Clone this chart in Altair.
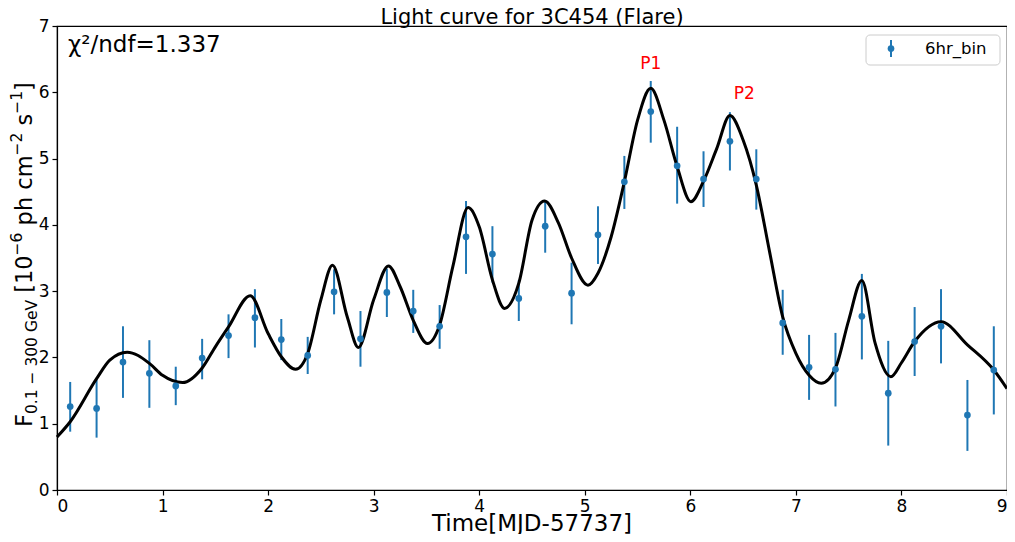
import altair as alt
import pandas as pd

FONT = "DejaVu Sans"

# ---- data: 6hr-binned light curve ----
time_bins = [0.125, 0.375, 0.625, 0.875, 1.125, 1.375, 1.625, 1.875, 2.125, 2.375,
             2.625, 2.875, 3.125, 3.375, 3.625, 3.875, 4.125, 4.375, 4.625, 4.875,
             5.125, 5.375, 5.625, 5.875, 6.125, 6.375, 6.625, 6.875, 7.125, 7.375,
             7.625, 7.875, 8.125, 8.375, 8.625, 8.875]
flux = [1.26, 1.23, 1.93, 1.76, 1.57, 1.99, 2.33, 2.60, 2.27, 2.03,
        2.99, 2.28, 2.98, 2.70, 2.47, 3.82, 3.56, 2.89, 3.98, 2.97,
        3.85, 4.65, 5.71, 4.89, 4.69, 5.26, 4.69, 2.52, 1.85, 1.82,
        2.62, 1.46, 2.24, 2.47, 1.13, 1.81]
flux_lo = [0.88, 0.79, 1.39, 1.24, 1.28, 1.67, 1.99, 2.15, 1.96, 1.75,
           2.65, 1.86, 2.61, 2.37, 2.13, 3.26, 3.13, 2.55, 3.58, 2.50,
           3.41, 4.24, 5.24, 4.32, 4.27, 4.82, 4.23, 2.04, 1.36, 1.26,
           1.97, 0.67, 1.72, 1.91, 0.59, 1.14]
flux_hi = [1.63, 1.67, 2.47, 2.26, 1.86, 2.28, 2.65, 3.03, 2.58, 2.31,
           3.33, 2.70, 3.34, 3.02, 2.79, 4.36, 3.98, 3.17, 4.35, 3.43,
           4.28, 5.04, 6.17, 5.48, 5.11, 5.70, 5.14, 3.02, 2.34, 2.37,
           3.26, 2.25, 2.76, 3.03, 1.66, 2.47]

# ---- fitted model curve ----
curve_t = [0.0, 0.125, 0.375, 0.5, 0.665, 0.875, 1.0, 1.19, 1.375, 1.5,
           1.625, 1.83, 2.0, 2.125, 2.26, 2.375, 2.5, 2.61, 2.75, 2.855,
           3.0, 3.14, 3.25, 3.375, 3.51, 3.625, 3.75, 3.895, 4.0, 4.125,
           4.24, 4.375, 4.5, 4.62, 4.75, 4.875, 5.03, 5.125, 5.25, 5.375,
           5.5, 5.625, 5.75, 5.875, 6.005, 6.125, 6.25, 6.375, 6.5, 6.625,
           6.75, 6.875, 7.0, 7.125, 7.24, 7.375, 7.5, 7.625, 7.75, 7.90,
           8.0, 8.125, 8.375, 8.625, 8.875, 9.0]
curve_f = [0.80, 1.03, 1.68, 1.96, 2.08, 1.91, 1.73, 1.62, 1.84, 2.16,
           2.46, 2.93, 2.36, 2.01, 1.82, 2.06, 2.87, 3.39, 2.61, 2.15,
           2.87, 3.38, 3.07, 2.56, 2.21, 2.49, 3.37, 4.26, 3.97, 3.17,
           2.74, 3.12, 4.07, 4.36, 4.03, 3.50, 3.09, 3.27, 3.82, 4.65,
           5.58, 6.06, 5.58, 4.88, 4.35, 4.66, 5.15, 5.65, 5.28, 4.60,
           3.60, 2.61, 2.06, 1.73, 1.61, 1.84, 2.56, 3.16, 2.22, 1.71,
           1.92, 2.24, 2.54, 2.19, 1.81, 1.53]

# ---- annotations ----
ann_t = [5.625, 6.51]
ann_f = [6.43, 5.97]
ann_label = ["P1", "P2"]

x_ticks = [0, 1, 2, 3, 4, 5, 6, 7, 8, 9]
y_ticks = [0, 1, 2, 3, 4, 5, 6, 7]

df_pts = pd.DataFrame({"t": time_bins, "flux": flux, "lo": flux_lo, "hi": flux_hi})
df_curve = pd.DataFrame({"t": curve_t, "flux": curve_f})
df_ann = pd.DataFrame({"t": ann_t, "flux": ann_f, "label": ann_label})
one = pd.DataFrame({"a": [0]})

W, H = 950, 464

x_enc = alt.X("t:Q", scale=alt.Scale(domain=[0, 9], nice=False, zero=False),
              axis=alt.Axis(values=x_ticks, title=None, format="d"))
y_enc = alt.Y("flux:Q", scale=alt.Scale(domain=[0, 7], nice=False),
              axis=alt.Axis(values=y_ticks, title=None, format="d"))

BLUE = "#1f77b4"

errbars = alt.Chart(df_pts).mark_rule(color=BLUE, strokeWidth=2).encode(
    x=x_enc, y=alt.Y("lo:Q", scale=alt.Scale(domain=[0, 7], nice=False),
                     axis=alt.Axis(values=y_ticks, title=None, format="d")),
    y2="hi:Q")
curve = alt.Chart(df_curve).mark_line(color="black", strokeWidth=3,
                                      interpolate="monotone").encode(x=x_enc, y=y_enc)
points = alt.Chart(df_pts).mark_circle(color=BLUE, size=45, opacity=1).encode(x=x_enc, y=y_enc)
ann = alt.Chart(df_ann).mark_text(color="red", fontSize=17, font=FONT).encode(
    x=x_enc, y=y_enc, text="label:N")

def label(text, size, x, y, align="left", baseline="alphabetic", angle=None):
    kw = dict(text=text, fontSize=size, font=FONT, align=align, baseline=baseline,
              color="black")
    if angle is not None:
        kw["angle"] = angle
    return alt.Chart(one).mark_text(**kw).encode(x=alt.value(x), y=alt.value(y))

title = label("Light curve for 3C454 (Flare)", 21, W / 2, -2.5, align="center")
xtitle = label("Time[MJD-57737]", 23, W / 2, 505, align="center")
chi = label("χ²/ndf=1.337", 23, 11, 19, baseline="middle")

# legend (manual, matplotlib-like)
leg_box = alt.Chart(one).mark_rect(fill="white", stroke="#cccccc", strokeWidth=1,
                                   cornerRadius=4).encode(
    x=alt.value(809), x2=alt.value(943), y=alt.value(9), y2=alt.value(39))
leg_bar = alt.Chart(one).mark_rule(color=BLUE, strokeWidth=2).encode(
    x=alt.value(834), y=alt.value(14), y2=alt.value(31))
leg_dot = alt.Chart(one).mark_circle(color=BLUE, size=45, opacity=1).encode(
    x=alt.value(834), y=alt.value(22.5))
leg_txt = label("6hr_bin", 16.5, 868, 23, baseline="middle")

# y-axis title built from segments (main / subscript / superscript)
MAIN, SMALL = 22.5, 15.5
segs = [
    ("F", MAIN, -25, 401),
    ("0.1 − 300 GeV", SMALL, -20, 388.1),
    ("[10", MAIN, -25, 266.8),
    ("−6", SMALL, -35, 229.4),
    ("ph cm", MAIN, -25, 199.4),
    ("−2", SMALL, -35, 129.4),
    ("s", MAIN, -25, 99.4),
    ("−1", SMALL, -35, 87.7),
    ("]", MAIN, -25, 64.9),
]
ytitle = [label(s, fs, xx, yy, angle=270) for s, fs, xx, yy in segs]

chart = alt.layer(errbars, curve, points, ann, title, xtitle, chi,
                  leg_box, leg_bar, leg_dot, leg_txt, *ytitle).properties(
    width=W, height=H,
    background="white",
    autosize=alt.AutoSizeParams(type="none"),
    padding={"left": 49, "top": 18, "right": 0, "bottom": 44},
).configure_view(stroke="black", strokeWidth=1.2).configure_axis(
    grid=False, domainColor="black", domainWidth=1.2, tickColor="black", tickSize=5,
    tickWidth=1.2, labelFont=FONT, labelFontSize=17, labelColor="black", labelPadding=3,
)

chart.save("out.html", embed_options={"renderer": "svg", "actions": False})
